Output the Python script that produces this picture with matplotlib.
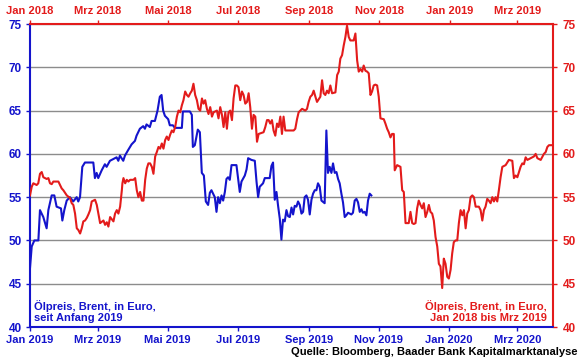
import numpy as np
import pandas as pd
import matplotlib
matplotlib.use("Agg")
import matplotlib.pyplot as plt
import matplotlib.dates as mdates

plt.rcParams["font.family"] = ["Liberation Sans", "DejaVu Sans"]
plt.rcParams["font.weight"] = "bold"

BLUE = "#1414CC"
RED = "#E31B1B"
GRID = "#8C8C8C"

# Brent in Euro seit Anfang 2019 (Tage ab 1.1.2019)
blue_days = [0, 1.5, 3.8, 7.3, 8.7, 11.6, 14.5, 16, 18.9, 21.2, 23.2, 27, 28.2, 29.9,
             32, 34.8, 37.7, 40.7, 42.1, 43.6, 45.6, 47.9, 55.2, 56.6, 58.1, 59.5,
             62.5, 65.3, 66.8, 69.7, 72.6, 75.5, 77, 78.4, 81.3, 82.8, 85.4, 88.6,
             91.5, 92.9, 95.8, 98.7, 100.2, 101.6, 104.5, 106, 108.9, 111.2, 113.2,
             114.7, 116.1, 117.6, 120.5, 121.9, 124.6, 126.3, 132.4, 133.3, 139.4,
             141.1, 142, 143.7, 146.3, 148.1, 149.8, 151.6, 153.3, 155.3, 156.8,
             158.2, 161.1, 162.6, 164, 165.5, 167, 168.4, 169.9, 171.3, 172.7, 174.2,
             175.7, 180, 181.4, 182.9, 184.4, 187.3, 188.8, 190.2, 193.1, 196, 197.5,
             198.9, 200.3, 203.2, 204.7, 209, 210.5, 211.9, 213.4, 214.9, 216.3,
             217.8, 219.2, 220.6, 222.1, 223.6, 225, 226.5, 228, 229.4, 230.8, 232.3,
             233.7, 235.2, 236.7, 238.1, 239.5, 241, 242.4, 243.9, 245.4, 246.8,
             248.3, 249.7, 251.1, 252.6, 254.1, 256.9, 258.4, 259.8, 261.3, 262.8,
             264.2, 265.7, 267.2, 268.6, 270, 271.5, 272.9, 274.4, 275.8, 277.3,
             280.2, 281.6, 283.1, 284.6, 286, 287.5, 289, 290.3, 291.8, 293.3, 294.7,
             296.2, 297.6]
blue_vals = [46.8, 49.3, 50.0, 50.0, 53.5, 52.7, 51.4, 53.5, 55.2, 55.2, 53.9, 53.7, 52.3, 53.5,
             54.6, 55.0, 54.5, 55.0, 54.5, 55.0, 58.5, 59.0, 59.0, 57.2, 57.8, 57.2,
             58.1, 58.8, 58.5, 59.2, 59.4, 59.6, 59.2, 59.8, 59.2, 59.8, 60.4, 61.1,
             61.5, 62.1, 62.9, 63.2, 62.9, 63.4, 63.1, 63.8, 63.8, 65.0, 66.6,
             66.8, 65.0, 64.4, 64.0, 63.3, 63.3, 63.0, 63.0, 64.9, 64.9,
             64.5, 60.8, 61.0, 62.8, 62.5, 57.8, 57.5, 54.5, 54.1, 55.5,
             55.8, 55.0, 53.3, 55.0, 54.3, 55.2, 54.6, 55.6, 57.1, 57.3, 57.0,
             58.7, 58.7, 57.2, 55.6, 56.8, 57.5, 58.2, 59.5, 59.3, 59.2, 56.8,
             55.0, 56.2, 56.6, 57.2, 57.2, 58.6, 59.0, 54.7, 55.6, 54.0,
             52.5, 50.1, 52.4, 52.2, 53.5, 52.8, 52.7, 53.8, 53.0, 54.0, 53.9,
             54.5, 54.1, 53.1, 53.3, 55.0, 55.2, 54.7, 53.0, 54.7, 55.4,
             55.8, 55.8, 56.6, 56.2, 54.6, 54.3, 62.7, 57.8, 58.5, 57.8,
             58.9, 57.8, 57.9, 57.1, 56.6, 55.4, 54.4, 52.7, 52.9, 53.2,
             53.0, 53.2, 54.6, 54.8, 54.4, 53.3, 53.6, 53.2, 53.3, 52.9, 54.6,
             55.4, 55.2]

# Brent in Euro Jan 2018 bis Mrz 2019 (Tage ab 1.1.2018)
red_days = [0, 1.5, 2.9, 5.8, 7.2, 8.7, 10.2, 11.6, 14.5, 16, 17.4, 18.9, 20.3, 24.7,
            26.1, 27.6, 29, 32, 34.8, 36.3, 37.7, 39.2, 40.7, 42.1, 43.6, 45, 46.4,
            47.9, 49.4, 50.8, 52.3, 53.7, 56.6, 58.1, 59.5, 61, 63.9, 65.3, 66.8,
            68.2, 69.7, 72.6, 74, 75.5, 76.9, 78.4, 79.9, 80.4, 81.3, 82.8, 84.2,
            85.6, 87.1, 90, 91.5, 92.9, 94.3, 95.8, 97.3, 98.7, 100.2, 101.6, 103,
            104.5, 106, 107.4, 108.9, 110.3, 111.8, 113.2, 114.7, 116.1, 117.6, 119,
            120.5, 121.9, 123.4, 124.8, 126.3, 127.8, 129.2, 130.7, 132.1, 133.5,
            135, 136.5, 137.9, 139.4, 140.8, 142.2, 143.7, 145.2, 146.6, 148.1,
            149.6, 151, 152.4, 153.9, 155.3, 156.8, 158.3, 159.7, 162.6, 164, 165.5,
            167, 168.4, 169.9, 171.3, 172.7, 174.2, 175.7, 177.1, 178.6, 180, 181.4,
            182.9, 184.4, 185.8, 187.3, 188.8, 190.2, 191.6, 193.1, 194.5, 196,
            197.5, 198.9, 203.2, 204.7, 206.2, 207.6, 209, 210.5, 211.9, 213.4,
            214.9, 216.3, 217.8, 219.2, 220.6, 222.1, 223.6, 229.4, 230.8, 232.3,
            233.7, 235.2, 236.7, 239.5, 241, 242.4, 243.9, 245.4, 246.8, 248.3,
            249.7, 251.1, 252.6, 254.1, 255.5, 256.9, 258.4, 259.8, 261.3, 262.8,
            265.7, 267.2, 268.6, 270, 271.5, 272.9, 274.4, 275.8, 277.3, 278.7,
            281.6, 283.1, 284.6, 286, 287.5, 289, 290.3, 291.8, 293.3, 294.7, 296.2,
            297.6, 299, 300.5, 302, 303.4, 304.9, 307.8, 309.2, 310.7, 312.1, 313.6,
            315, 316.5, 317.3, 319.4, 322.3, 323.8, 325.2, 326.7, 329.5, 331, 332.5,
            333.9, 335.4, 336.8, 338.2, 339.7, 341.2, 342.6, 344.1, 345.6, 347,
            348.4, 349.9, 351.3, 352.8, 354.3, 355.7, 357.1, 358.6, 360, 361.5, 363,
            364.4, 365.9, 367.3, 368.7, 370.2, 371.7, 373.1, 374.6, 376.1, 377.5,
            379, 380.4, 381.8, 383.3, 384.8, 386.2, 387.7, 390.5, 392, 393.5, 394.9,
            396.3, 397.8, 399.2, 400.7, 402.2, 403.6, 405.1, 406.5, 407.9, 409.4,
            410.9, 413.8, 415.2, 416.6, 419.6, 421, 422.5, 424, 425.4, 426.8, 428.3,
            429.7, 431.2, 432.7, 434.1, 437, 438.4, 439.9, 441.4, 444.3, 447.1,
            448.6, 450.1, 451.5, 453.5]
red_vals = [55.2, 56.2, 56.6, 56.4, 56.6, 57.7, 57.9, 57.3, 57.1, 57.2, 56.6, 56.5, 56.8, 56.8,
            56.4, 56.0, 55.8, 55.2, 54.9, 54.3, 54.1, 53.1, 51.4, 51.2, 50.8, 51.4, 52.2,
            52.3, 52.6, 53.0, 53.5, 54.5, 54.7, 54.1, 53.1, 52.0, 52.3, 51.8, 52.1,
            51.6, 52.7, 52.2, 53.1, 53.5, 53.1, 53.9, 55.8, 56.6, 57.2, 56.6, 57.0,
            56.8, 57.0, 57.0, 57.2, 55.8, 55.0, 55.6, 54.6, 54.6, 57.0, 58.3, 58.9,
            58.9, 58.5, 57.7, 59.7, 60.2, 60.8, 60.6, 61.2, 60.6, 61.6, 62.0,
            61.6, 62.2, 62.7, 62.5, 63.1, 64.3, 65.0, 64.8, 65.6, 66.2,
            67.2, 66.8, 66.6, 67.0, 67.3, 68.1, 66.8, 66.2, 65.2, 65.0,
            66.4, 65.8, 66.2, 65.2, 64.6, 65.4, 64.3, 64.8, 65.0, 64.1, 65.4,
            64.5, 63.1, 64.8, 62.9, 64.8, 65.0, 63.9, 66.4, 67.9, 67.9, 67.7,
            66.2, 67.2, 66.8, 65.8, 66.0, 67.0, 65.4, 62.9, 64.5, 64.3,
            61.4, 62.3, 62.5, 63.1, 63.9, 63.9, 63.5, 63.9, 62.7, 62.1,
            63.5, 63.1, 64.3, 62.3, 64.3, 62.7, 62.7, 62.7, 62.9,
            64.0, 64.8, 65.0, 65.2, 65.0, 65.2, 66.0, 66.6, 66.8, 67.3, 66.6,
            66.0, 66.3, 66.6, 68.5, 67.0, 66.8, 67.3, 67.0, 67.9, 67.0,
            67.1, 69.1, 69.5, 71.0, 71.4, 72.5, 73.5, 74.8, 73.5, 73.1,
            73.1, 73.9, 70.8, 69.5, 69.8, 69.5, 70.2, 69.6, 69.5, 69.3, 66.8,
            67.2, 67.9, 68.0, 67.9, 66.6, 64.1, 64.0, 63.5, 62.9, 62.5, 61.9,
            62.3, 62.3, 58.1, 58.7, 58.5, 55.8, 55.6, 52.0, 52.0, 53.3, 52.0,
            51.9, 52.0, 53.7, 54.6, 54.1, 53.7, 54.3, 52.7, 53.3, 54.1,
            53.3, 53.1, 52.3, 50.4, 49.3, 47.3, 47.0, 44.5, 47.9, 47.3, 45.8,
            45.6, 46.6, 48.5, 49.8, 50.0, 50.0, 52.0, 53.5, 52.9, 53.5,
            51.4, 53.1, 53.5, 55.0, 55.2, 55.0, 53.9, 53.9, 53.5, 52.3, 53.5,
            53.9, 54.8, 54.6, 54.3, 55.0, 54.5, 55.0, 54.5, 55.8, 57.3,
            58.5, 58.7, 59.0, 59.3, 59.2, 57.2, 57.5, 57.3, 57.9, 58.5, 58.9,
            58.8, 59.6, 59.3, 59.4, 59.6, 59.7, 60.0, 59.5, 59.3, 60.0,
            60.2, 60.8, 61.0, 61.0]

bottom_ticks = ["2019-01-01", "2019-03-01", "2019-05-01", "2019-07-01",
                "2019-09-01", "2019-11-01", "2020-01-01", "2020-03-01"]
bottom_labels = ["Jan 2019", "Mrz 2019", "Mai 2019", "Jul 2019",
                 "Sep 2019", "Nov 2019", "Jan 2020", "Mrz 2020"]
top_ticks = ["2018-01-01", "2018-03-01", "2018-05-01", "2018-07-01",
             "2018-09-01", "2018-11-01", "2019-01-01", "2019-03-01"]
top_labels = ["Jan 2018", "Mrz 2018", "Mai 2018", "Jul 2018",
              "Sep 2018", "Nov 2018", "Jan 2019", "Mrz 2019"]
y_ticks = [40, 45, 50, 55, 60, 65, 70, 75]

blue_dates = pd.Timestamp("2019-01-01") + pd.to_timedelta(blue_days, unit="D")
red_dates = pd.Timestamp("2018-01-01") + pd.to_timedelta(red_days, unit="D")

fig = plt.figure(figsize=(5.8, 3.59), dpi=100)
rect = [30 / 580, 32 / 359, 523 / 580, 303 / 359]
ax = fig.add_axes(rect)
ax_r = fig.add_axes(rect, frameon=False)

# --- blaue Reihe: unten / links ---
ax.plot(blue_dates, blue_vals, color=BLUE, lw=1.5, zorder=3)
ax.set_xlim(pd.Timestamp("2019-01-01"), pd.Timestamp("2020-04-01"))
ax.set_ylim(40, 75)
ax.set_yticks(y_ticks)
ax.set_xticks(pd.to_datetime(bottom_ticks))
ax.set_xticklabels(bottom_labels)
ax.yaxis.grid(True, color=GRID, lw=1.0)
ax.set_axisbelow(True)
ax.tick_params(axis="both", colors=BLUE, labelsize=8, length=3, width=1,
               direction="out")
ax.tick_params(axis="x", pad=3)
ax.tick_params(axis="y", pad=3, labelsize=8.5)
for s in ["left", "bottom"]:
    ax.spines[s].set_color(BLUE)
    ax.spines[s].set_linewidth(1.5)
for s in ["top", "right"]:
    ax.spines[s].set_color(RED)
    ax.spines[s].set_linewidth(1.5)

# --- rote Reihe: oben / rechts ---
ax_r.plot(red_dates, red_vals, color=RED, lw=1.5)
ax_r.set_xlim(pd.Timestamp("2018-01-01"), pd.Timestamp("2019-04-01"))
ax_r.set_ylim(40, 75)
ax_r.patch.set_visible(False)
ax_r.xaxis.tick_top()
ax_r.yaxis.tick_right()
ax_r.set_yticks(y_ticks)
ax_r.set_xticks(pd.to_datetime(top_ticks))
ax_r.set_xticklabels(top_labels)
ax_r.tick_params(axis="both", colors=RED, labelsize=8, length=3, width=1,
                 direction="out")
ax_r.tick_params(axis="x", pad=3)
ax_r.tick_params(axis="y", pad=4, labelsize=8.5)

ax.text(0.008, 0.014, "Ölpreis, Brent, in Euro,\nseit Anfang 2019",
        transform=ax.transAxes, color=BLUE, fontsize=8, fontweight="bold",
        ha="left", va="bottom", linespacing=1.05, zorder=5)
ax_r.text(0.9885, 0.014, "Ölpreis, Brent, in Euro,\nJan 2018 bis Mrz 2019",
          transform=ax_r.transAxes, color=RED, fontsize=8, fontweight="bold",
          ha="right", va="bottom", linespacing=1.05, multialignment="right")

fig.text(0.995, 0.02, "Quelle: Bloomberg, Baader Bank Kapitalmarktanalyse",
         ha="right", va="center", fontsize=8, fontweight="bold", color="black")

fig.savefig("out.png", dpi=100)
